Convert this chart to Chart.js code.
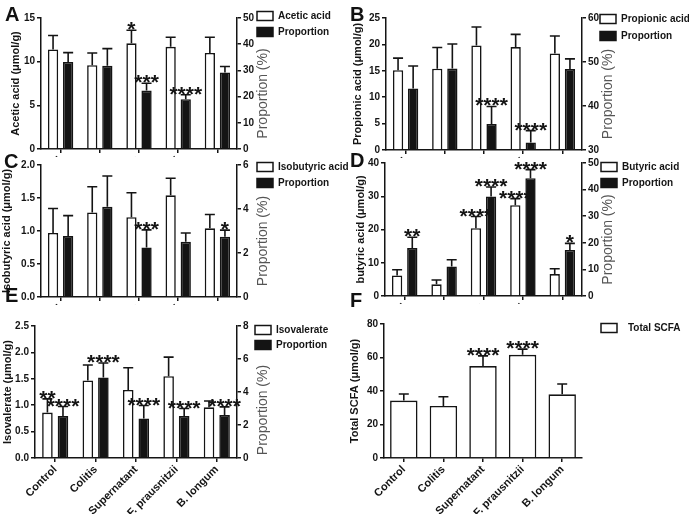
<!DOCTYPE html>
<html>
<head>
<meta charset="utf-8">
<script src="https://cdn.jsdelivr.net/npm/chart.js@4.4.1/dist/chart.umd.min.js"></script>
<style>
  html, body { margin: 0; padding: 0; background: #fff; }
  #fig { position: relative; width: 689px; height: 519px; overflow: hidden; font-family: "Liberation Sans", Arial, sans-serif; }
  #fig canvas { position: absolute; }
  .lbl { position: absolute; font-weight: bold; font-size: 20px; line-height: 20px; color: #111; }
</style>
</head>
<body>
<div id="fig">
  <canvas id="cA"></canvas>
  <canvas id="cB"></canvas>
  <canvas id="cC"></canvas>
  <canvas id="cD"></canvas>
  <canvas id="cE"></canvas>
  <canvas id="cF"></canvas>
  <div class="lbl" style="left:5px;top:4px">A</div>
  <div class="lbl" style="left:350px;top:4px">B</div>
  <div class="lbl" style="left:4px;top:151px">C</div>
  <div class="lbl" style="left:350px;top:150px">D</div>
  <div class="lbl" style="left:5px;top:285px">E</div>
  <div class="lbl" style="left:350px;top:290px">F</div>
</div>
<script>
Chart.defaults.font.family = '"Liberation Sans", Arial, sans-serif';

const groups = ['Control', 'Colitis', 'Supernatant', 'F. prausnitzii', 'B. longum'];

// A - acetic acid
const acetic = [11.4, 9.6, 12.1, 11.7, 11.0];
const aceticErr = [1.6, 1.4, 1.5, 1.1, 1.8];
const aceticProp = [33.2, 31.8, 22.3, 19.0, 29.2];
const aceticPropErr = [3.6, 6.5, 2.8, 1.7, 2.3];
const aceticStars = ['', '', '*', '', ''];
const aceticPropStars = ['', '', '***', '****', ''];

// B - propionic acid
const propionic = [15.1, 15.4, 19.8, 19.5, 18.3];
const propionicErr = [2.3, 4.0, 3.5, 2.4, 3.3];
const propionicProp = [44.0, 48.5, 35.9, 31.7, 48.4];
const propionicPropErr = [5.1, 5.6, 4.0, 2.7, 2.3];
const propionicStars = ['', '', '', '', ''];
const propionicPropStars = ['', '', '****', '****', ''];

// C - isobutyric acid
const isobutyric = [0.97, 1.28, 1.21, 1.54, 1.04];
const isobutyricErr = [0.37, 0.39, 0.37, 0.26, 0.21];
const isobutyricProp = [2.77, 4.10, 2.25, 2.51, 2.74];
const isobutyricPropErr = [0.93, 1.40, 0.80, 0.40, 0.30];
const isobutyricStars = ['', '', '', '', ''];
const isobutyricPropStars = ['', '', '***', '', '*'];

// D - butyric acid
const butyric = [6.2, 3.5, 20.4, 27.3, 6.6];
const butyricErr = [1.7, 1.3, 3.5, 2.0, 1.6];
const butyricProp = [18.0, 11.1, 37.4, 44.3, 17.3];
const butyricPropErr = [4.1, 2.5, 3.6, 3.2, 2.5];
const butyricStars = ['', '', '****', '****', ''];
const butyricPropStars = ['**', '', '****', '****', '*'];

// E - isovalerate
const isovalerate = [0.86, 1.47, 1.29, 1.55, 0.96];
const isovalerateErr = [0.26, 0.29, 0.42, 0.36, 0.12];
const isovalerateProp = [2.54, 4.88, 2.40, 2.54, 2.60];
const isovaleratePropErr = [0.58, 0.88, 0.78, 0.46, 0.50];
const isovalerateStars = ['**', '', '', '', ''];
const isovaleratePropStars = ['****', '****', '****', '****', '****'];

// F - total SCFA
const totalScfa = [34.3, 31.1, 54.9, 61.6, 38.0];
const totalScfaErr = [3.9, 5.5, 6.1, 3.4, 6.2];
const totalScfaStars = ['', '', '****', '****', ''];

const INK = '#141414';

// error bars (upper whisker only) and significance stars
const errorStars = {
  id: 'errorStars',
  afterDatasetsDraw(chart) {
    const ctx = chart.ctx;
    chart.data.datasets.forEach((ds, di) => {
      const meta = chart.getDatasetMeta(di);
      const sc = chart.scales[ds.yAxisID];
      meta.data.forEach((bar, i) => {
        const top = sc.getPixelForValue(ds.data[i] + ds.errors[i]);
        ctx.save();
        ctx.strokeStyle = INK;
        ctx.lineWidth = 1.6;
        ctx.beginPath();
        ctx.moveTo(bar.x, bar.y);
        ctx.lineTo(bar.x, top);
        ctx.moveTo(bar.x - 5, top);
        ctx.lineTo(bar.x + 5, top);
        ctx.stroke();
        const s = ds.stars[i];
        if (s) {
          ctx.fillStyle = INK;
          ctx.font = 'bold 21px "Liberation Sans", Arial, sans-serif';
          ctx.textAlign = 'center';
          ctx.textBaseline = 'alphabetic';
          ctx.fillText(s, bar.x, top + 6);
        }
        ctx.restore();
      });
    });
  }
};

// right axis title (reads bottom to top) and legend
const extras = {
  id: 'extras',
  afterDraw(chart) {
    const o = chart.options.plugins.extras;
    const ctx = chart.ctx;
    const a = chart.chartArea;
    ctx.save();
    if (chart.scales.y1) {
      ctx.translate(a.right + 26, (a.top + a.bottom) / 2 + o.titleShift);
      ctx.rotate(-Math.PI / 2);
      ctx.fillStyle = '#555';
      ctx.font = '14px "Liberation Sans", Arial, sans-serif';
      ctx.textAlign = 'center';
      ctx.textBaseline = 'middle';
      ctx.fillText('Proportion (%)', 0, 0);
      ctx.setTransform(1, 0, 0, 1, 0, 0);
    }
    chart.data.datasets.forEach((ds, di) => {
      const x = o.legX, y = o.legY[di];
      ctx.fillStyle = ds.backgroundColor;
      ctx.strokeStyle = INK;
      ctx.lineWidth = 1.5;
      ctx.fillRect(x, y - 4.5, 16, 9);
      ctx.strokeRect(x, y - 4.5, 16, 9);
      ctx.fillStyle = INK;
      ctx.font = 'bold 10px "Liberation Sans", Arial, sans-serif';
      ctx.textAlign = 'left';
      ctx.textBaseline = 'middle';
      ctx.fillText(ds.label, x + o.legGap, y + 0.5);
    });
    ctx.restore();
  }
};

function axisLine() {
  return { color: INK, width: 1.5 };
}
function tickGrid() {
  return { drawOnChartArea: false, drawTicks: true, tickLength: 4, color: INK, lineWidth: 1.5 };
}
function tickFont() {
  return { weight: 'bold', size: 10 };
}

function makePanel(id, box, area, p) {
  const cv = document.getElementById(id);
  cv.width = box.w;
  cv.height = box.h;
  cv.style.left = box.x + 'px';
  cv.style.top = box.y + 'px';
  const hasRight = !!p.right;
  const leftW = area.l - box.x;
  const rightW = hasRight ? 40 : 0;
  const xH = p.showLabels ? 56 : 8;
  const padding = {
    left: 0,
    top: area.t - box.y,
    right: box.x + box.w - area.r - rightW,
    bottom: box.y + box.h - area.b - xH
  };

  const datasets = [{
    label: p.left.label,
    data: p.left.data,
    errors: p.left.err,
    stars: p.left.stars,
    yAxisID: 'y',
    backgroundColor: '#ffffff',
    borderColor: INK,
    borderWidth: 1.6,
    categoryPercentage: 0.77,
    barPercentage: hasRight ? 0.68 : 0.9
  }];
  if (hasRight) {
    datasets.push({
      label: 'Proportion',
      data: p.right.data,
      errors: p.right.err,
      stars: p.right.stars,
      yAxisID: 'y1',
      backgroundColor: INK,
      borderColor: INK,
      borderWidth: 1.6,
      categoryPercentage: 0.77,
      barPercentage: 0.68
    });
  }

  const scales = {
    x: {
      offset: true,
      grid: Object.assign(tickGrid(), { offset: false }),
      border: axisLine(),
      ticks: { display: p.showLabels, minRotation: 45, maxRotation: 45, font: { weight: 'bold', size: 11 }, color: INK, padding: 1 },
      afterFit(s) { s.height = xH; s.paddingLeft = 0; s.paddingRight = 0; }
    },
    y: {
      position: 'left',
      min: p.left.min, max: p.left.max,
      ticks: { stepSize: p.left.step, font: tickFont(), color: INK, padding: 2,
        callback: v => v.toFixed(p.left.dec) },
      grid: tickGrid(),
      border: axisLine(),
      title: { display: true, text: p.left.title, font: { weight: 'bold', size: 11 }, color: INK,
        padding: { top: p.titlePad, bottom: 0 } },
      afterFit(s) { s.width = leftW; }
    }
  };
  if (hasRight) {
    scales.y1 = {
      position: 'right',
      min: p.right.min, max: p.right.max,
      ticks: { stepSize: p.right.step, font: tickFont(), color: INK, padding: 2 },
      grid: tickGrid(),
      border: axisLine(),
      afterFit(s) { s.width = rightW; }
    };
  }

  return new Chart(cv, {
    type: 'bar',
    data: { labels: groups, datasets: datasets },
    options: {
      responsive: false,
      animation: false,
      devicePixelRatio: 1,
      layout: { padding: padding },
      plugins: {
        legend: { display: false },
        tooltip: { enabled: false },
        extras: { legX: p.legX - box.x, legY: p.legY.map(v => v - box.y), legGap: p.legGap || 21, titleShift: p.titleShift || 10 }
      },
      scales: scales
    },
    plugins: [errorStars, extras]
  });
}

makePanel('cA', { x: 0, y: 0, w: 360, h: 165 }, { l: 41, t: 18, r: 237, b: 149 }, {
  left: { label: 'Acetic acid', title: 'Acetic acid (μmol/g)', data: acetic, err: aceticErr, stars: aceticStars, min: 0, max: 15, step: 5, dec: 0 },
  right: { data: aceticProp, err: aceticPropErr, stars: aceticPropStars, min: 0, max: 50, step: 10 },
  titlePad: 9, legX: 257, legY: [16, 32]
});

makePanel('cB', { x: 345, y: 0, w: 344, h: 165 }, { l: 386, t: 18, r: 582, b: 150 }, {
  left: { label: 'Propionic acid', title: 'Propionic acid (μmol/g)', data: propionic, err: propionicErr, stars: propionicStars, min: 0, max: 25, step: 5, dec: 0 },
  right: { data: propionicProp, err: propionicPropErr, stars: propionicPropStars, min: 30, max: 60, step: 10 },
  titlePad: 6, legX: 600, legY: [19, 36]
});

makePanel('cC', { x: 0, y: 150, w: 360, h: 160 }, { l: 41, t: 165, r: 237, b: 297 }, {
  left: { label: 'Isobutyric acid', title: 'Isobutyric acid (μmol/g)', data: isobutyric, err: isobutyricErr, stars: isobutyricStars, min: 0, max: 2, step: 0.5, dec: 1 },
  right: { data: isobutyricProp, err: isobutyricPropErr, stars: isobutyricPropStars, min: 0, max: 6, step: 2 },
  titlePad: 0, legX: 257, legY: [167, 183]
});

makePanel('cD', { x: 345, y: 145, w: 344, h: 165 }, { l: 385, t: 163, r: 582, b: 296 }, {
  left: { label: 'Butyric acid', title: 'butyric acid (μmol/g)', data: butyric, err: butyricErr, stars: butyricStars, min: 0, max: 40, step: 10, dec: 0 },
  right: { data: butyricProp, err: butyricPropErr, stars: butyricPropStars, min: 0, max: 50, step: 10 },
  titlePad: 9, legX: 601, legY: [167, 183]
});

makePanel('cE', { x: 0, y: 305, w: 360, h: 214 }, { l: 35, t: 326, r: 237, b: 458 }, {
  left: { label: 'Isovalerate', title: 'Isovalerate (μmol/g)', data: isovalerate, err: isovalerateErr, stars: isovalerateStars, min: 0, max: 2.5, step: 0.5, dec: 1 },
  right: { data: isovalerateProp, err: isovaleratePropErr, stars: isovaleratePropStars, min: 0, max: 8, step: 2 },
  titlePad: 1, legX: 255, legY: [330, 345], showLabels: true, titleShift: 18
});

makePanel('cF', { x: 345, y: 305, w: 344, h: 214 }, { l: 384, t: 324, r: 582, b: 458 }, {
  left: { label: 'Total SCFA', title: 'Total SCFA (μmol/g)', data: totalScfa, err: totalScfaErr, stars: totalScfaStars, min: 0, max: 80, step: 20, dec: 0 },
  titlePad: 3, legX: 601, legY: [328], legGap: 27, showLabels: true
});
</script>
</body>
</html>
